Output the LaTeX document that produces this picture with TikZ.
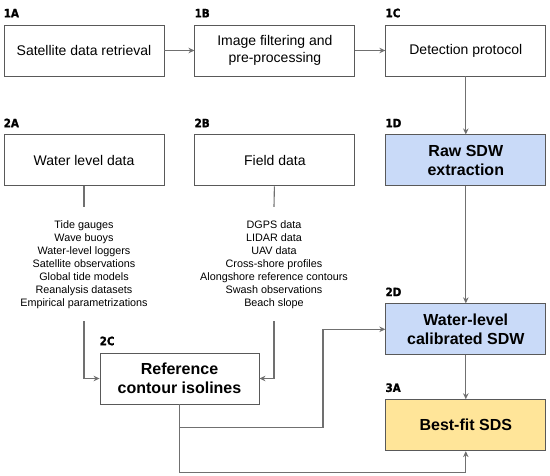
\documentclass[tikz,border=0pt]{standalone}
\usepackage{fontspec}
\setmainfont{Liberation Sans}
\newfontfamily\tagfont{DejaVu Sans Condensed Bold}[FakeBold=1.2]
\usetikzlibrary{arrows.meta,positioning}
\definecolor{BoxGray}{HTML}{595959}
\definecolor{ArrGray}{HTML}{707070}
\definecolor{SDWBlue}{HTML}{C9DAF8}
\definecolor{SDSYellow}{HTML}{FFE599}
\tikzset{
  box/.style={draw=BoxGray, line width=0.9pt, align=center, fill=white, minimum width=160pt, minimum height=51pt, inner sep=3pt, font=\fontsize{14}{17}\selectfont},
  boldbox/.style={box, font=\fontsize{16}{19.5}\selectfont\bfseries},
  bluebox/.style={boldbox, fill=SDWBlue},
  yellowbox/.style={boldbox, fill=SDSYellow},
  tag/.style={font=\tagfont\fontsize{11.5}{11.5}\selectfont, inner sep=0pt},
  list/.style={align=center, inner sep=0pt, font=\fontsize{10.8}{13}\selectfont},
  arr/.style={-{Stealth[length=6pt,width=5.5pt]}, line width=1.1pt, draw=ArrGray},
  stem/.style={line width=1.1pt, draw=ArrGray}
}

\begin{document}
\begin{tikzpicture}[x=1pt, y=-1pt]
\useasboundingbox (0,0) rectangle (550,476);
% top row: image processing chain
\node[box] (sat) at (84,50.5) {Satellite data retrieval};
\node[box, right=30pt of sat] (filt) {Image filtering and\\pre-processing};
\node[box, right=30pt of filt] (det) {Detection protocol};
% second row
\node[box, below=58pt of sat] (wl) {Water level data};
\node[box, below=58pt of filt] (field) {Field data};
\node[bluebox, below=58pt of det] (raw) {Raw SDW\\extraction};
\node[bluebox, below=117pt of raw] (cal) {Water-level\\calibrated SDW};
\node[yellowbox, below=44pt of cal] (sds) {Best-fit SDS};
\node[boldbox, minimum width=159pt] (ref) at (179.5,378.5) {Reference\\contour isolines};
% data sources
\node[list] (wlsrc) at (84,265) {Tide gauges\\Wave buoys\\Water-level loggers\\Satellite observations\\Global tide models\\Reanalysis datasets\\Empirical parametrizations};
\node[list] (fieldsrc) at (274,265) {DGPS data\\LIDAR data\\UAV data\\Cross-shore profiles\\Alongshore reference contours\\Swash observations\\Beach slope};
% step tags
\node[tag, above right=7pt and 0pt of sat.north west] (tagA) {1A};
\node[tag, above right=7pt and 0pt of filt.north west] (tagB) {1B};
\node[tag, above right=7pt and 0pt of det.north west] (tagC) {1C};
\node[tag, above right=7pt and 0pt of raw.north west] (tagD) {1D};
\node[tag, above right=7pt and 0pt of wl.north west] (tagWA) {2A};
\node[tag, above right=7pt and 0pt of field.north west] (tagWB) {2B};
\node[tag, above right=7pt and 0pt of ref.north west] (tagWC) {2C};
\node[tag, above right=7pt and 0pt of cal.north west] (tagWD) {2D};
\node[tag, above right=7pt and 0pt of sds.north west] (tagFA) {3A};
% connectors
\draw[arr] (sat) -- (filt);
\draw[arr] (filt) -- (det);
\draw[arr] (det) -- (raw);
\draw[arr] (raw) -- (cal);
\draw[arr] (cal) -- (sds);
\draw[stem] (wl) -- ([yshift=14pt]wlsrc.north);
\draw[stem] (field) -- ([yshift=14pt]fieldsrc.north);
\draw[arr] ([yshift=-12pt]wlsrc.south) |- (ref);
\draw[arr] ([yshift=-12pt]fieldsrc.south) |- (ref);
\draw[arr] (ref.south) -- ++(0,23) -- ++(143.5,0) |- (cal);
\draw[arr] (ref.south) -- ++(0,68) -| (sds);
\end{tikzpicture}
\end{document}
